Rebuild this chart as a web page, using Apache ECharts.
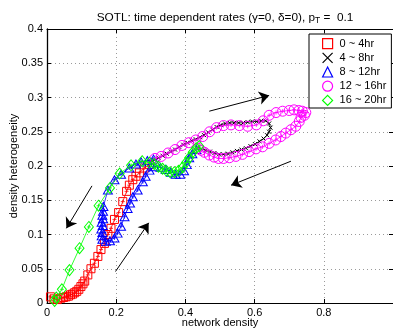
<!DOCTYPE html>
<html>
<head>
<meta charset="utf-8">
<script src="https://cdn.jsdelivr.net/npm/echarts@6/dist/echarts.min.js"></script>
<style>html,body{margin:0;padding:0;background:#fff}#c{width:393px;height:329px}</style>
</head>
<body>
<div id="c"></div>
<script>
// ---- data ----
const seriesNames = ['0 ~ 4hr', '4 ~ 8hr', '8 ~ 12hr', '12 ~ 16hr', '16 ~ 20hr'];
const xTicks = [0, 0.2, 0.4, 0.6, 0.8];
const red0to4 = [
  [0.010,0.009],[0.020,0.006],[0.030,0.005],[0.040,0.007],[0.048,0.008],[0.055,0.009],
  [0.062,0.010],[0.068,0.012],[0.074,0.013],[0.080,0.015],[0.086,0.017],[0.092,0.020],
  [0.098,0.024],[0.104,0.028],[0.109,0.032],[0.118,0.041],[0.127,0.050],[0.137,0.058],
  [0.147,0.068],[0.156,0.078],[0.166,0.087],[0.176,0.100],[0.185,0.109],[0.195,0.122],
  [0.207,0.132],[0.219,0.148],[0.230,0.163],[0.238,0.172],[0.248,0.180],[0.257,0.185],
  [0.267,0.190],[0.281,0.197],[0.296,0.202]
];
const black4to8 = [
  [0.298,0.205],[0.310,0.209],[0.322,0.212],[0.334,0.215],[0.346,0.218],[0.358,0.221],
  [0.370,0.224],[0.382,0.228],[0.394,0.231],[0.406,0.234],[0.418,0.237],[0.430,0.239],
  [0.442,0.242],[0.454,0.245],[0.466,0.249],[0.478,0.253],[0.490,0.257],[0.502,0.260],
  [0.515,0.262],[0.528,0.263],[0.541,0.263],[0.554,0.263],[0.567,0.263],[0.580,0.264],
  [0.593,0.265],[0.606,0.265],[0.619,0.266],[0.632,0.266],[0.642,0.262],[0.646,0.256],
  [0.642,0.250],[0.636,0.245],[0.626,0.240],[0.614,0.236],[0.601,0.232],[0.588,0.229],
  [0.575,0.226],[0.562,0.224],[0.549,0.222],[0.536,0.220],[0.523,0.218],[0.510,0.217],
  [0.497,0.217],[0.484,0.219],[0.471,0.221],[0.458,0.223],[0.445,0.225],[0.435,0.226]
];
const blue8to12 = [
  [0.432,0.224],[0.420,0.218],[0.411,0.212],[0.404,0.202],[0.396,0.193],[0.385,0.188],
  [0.372,0.188],[0.358,0.191],[0.343,0.195],[0.328,0.198],[0.312,0.199],[0.296,0.194],
  [0.285,0.185],[0.277,0.177],[0.262,0.165],[0.248,0.155],[0.240,0.146],[0.233,0.138],
  [0.224,0.126],[0.214,0.112],[0.204,0.102],[0.195,0.095],[0.182,0.091],[0.170,0.090],
  [0.160,0.093],[0.158,0.098],[0.160,0.103],[0.157,0.108],[0.161,0.113],[0.158,0.118],
  [0.162,0.123],[0.160,0.128],[0.162,0.134],[0.163,0.141],[0.176,0.165],[0.195,0.180],
  [0.214,0.188],[0.238,0.197],[0.257,0.203],[0.272,0.206],[0.290,0.208],[0.308,0.210]
];
const magenta12to16 = [
  [0.312,0.211],[0.330,0.214],[0.350,0.219],[0.370,0.224],[0.390,0.230],[0.410,0.234],
  [0.430,0.238],[0.450,0.243],[0.470,0.250],[0.490,0.256],[0.510,0.259],[0.532,0.260],
  [0.556,0.259],[0.580,0.258],[0.605,0.260],[0.625,0.266],[0.642,0.274],[0.662,0.278],
  [0.681,0.280],[0.700,0.281],[0.714,0.282],[0.728,0.281],[0.738,0.280],[0.748,0.278],
  [0.744,0.274],[0.734,0.271],[0.729,0.265],[0.719,0.258],[0.705,0.253],[0.690,0.248],
  [0.676,0.243],[0.661,0.238],[0.642,0.233],[0.623,0.228],[0.604,0.225],[0.584,0.221],
  [0.565,0.217],[0.546,0.214],[0.527,0.212],[0.510,0.211],[0.496,0.211],[0.483,0.213],
  [0.469,0.216],[0.455,0.220],[0.445,0.223],[0.436,0.226]
];
const green16to20 = [
  [0.440,0.229],[0.431,0.226],[0.421,0.220],[0.411,0.212],[0.402,0.205],[0.392,0.198],
  [0.380,0.193],[0.368,0.191],[0.356,0.191],[0.345,0.193],[0.334,0.196],[0.322,0.199],
  [0.310,0.203],[0.296,0.205],[0.275,0.207],[0.243,0.201],[0.210,0.189],[0.182,0.168],
  [0.149,0.142],[0.121,0.111],[0.094,0.080],[0.065,0.048],[0.043,0.020],[0.027,0.008],
  [0.022,0.003]
];
const arrowStarts = [[0.469,0.280],[0.705,0.207],[0.130,0.171],[0.198,0.046]];
const arrowEnds   = [[0.642,0.303],[0.532,0.172],[0.056,0.109],[0.294,0.117]];

// ---- chart ----
const FONT = '"Liberation Sans", Arial, sans-serif';
const colors = ['#ff0000', '#000000', '#0000ff', '#ff00ff', '#00ff00'];
const xPath = 'path://M0,0L10,10M10,0L0,10';
const plusPath = 'path://M5,0L5,10M0,5L10,5';
const symbols = ['rect', xPath, 'triangle', 'circle', 'diamond'];
const symSizes = [8, 4, [9, 8], 10, [9, 11]];
const legendIcons = ['rect', xPath, 'triangle', 'circle', 'diamond'];
const allData = [red0to4, black4to8, blue8to12, magenta12to16, green16to20];

const series = [];
allData.forEach((d, i) => {
  series.push({
    name: seriesNames[i], type: 'line', data: d, z: 2 + i,
    symbol: symbols[i], symbolSize: symSizes[i], showAllSymbol: true,
    lineStyle: { color: colors[i], width: 0.8 },
    itemStyle: { color: 'rgba(0,0,0,0)', borderColor: colors[i], borderWidth: 1 },
    emphasis: { disabled: true }, animation: false, silent: true
  });
  if (i !== 1) {
    series.push({
      name: seriesNames[i] + '_c', type: 'line', data: d, z: 2 + i,
      symbol: plusPath, symbolSize: 4, showAllSymbol: true,
      lineStyle: { width: 0, opacity: 0 },
      itemStyle: { color: 'rgba(0,0,0,0)', borderColor: colors[i], borderWidth: 0.8 },
      emphasis: { disabled: true }, animation: false, silent: true
    });
  }
});
series.push({
  type: 'lines', coordinateSystem: 'cartesian2d', z: 10,
  data: arrowStarts.map((s, k) => ({ coords: [s, arrowEnds[k]] })),
  symbol: ['none', 'arrow'], symbolSize: [5, 10],
  lineStyle: { color: '#000', width: 1, opacity: 1 },
  animation: false, silent: true
});

const axisTxt = { color: '#000', fontSize: 11, fontFamily: FONT };
const grid = { type: [1, 3], color: '#9a9a9a', width: 1 };
const option = {
  backgroundColor: '#fff',
  animation: false,
  title: {
    text: 'SOTL: time dependent rates (γ=0, δ=0), p{sub|T} =  0.1',
    left: 220, top: 5, textAlign: 'center',
    textStyle: {
      color: '#000', fontSize: 11.8, fontWeight: 'normal', fontFamily: FONT,
      rich: { sub: { fontSize: 8.5, fontFamily: FONT, color: '#000', padding: [6, 0, 0, 0] } }
    }
  },
  legend: {
    orient: 'vertical', left: 309, top: 34,
    padding: [4, 5, 2, 13], itemWidth: 10, itemHeight: 10, itemGap: 3,
    backgroundColor: '#fff', borderColor: '#000', borderWidth: 1, borderRadius: 0,
    textStyle: { color: '#000', fontSize: 11, fontFamily: FONT, lineHeight: 10, padding: [0, 0, 0, 2] },
    selectedMode: false,
    data: seriesNames.map((n, i) => ({
      name: n, icon: legendIcons[i],
      itemStyle: { color: 'rgba(0,0,0,0)', borderColor: colors[i], borderWidth: 1.2 }
    }))
  },
  grid: { left: 47, right: 0, top: 29, bottom: 26, containLabel: false, outerBoundsMode: 'none' },
  xAxis: [{
    type: 'value', min: 0, max: 1, interval: 0.2,
    name: 'network density', nameLocation: 'middle', nameGap: 14, nameMoveOverlap: false,
    nameTextStyle: axisTxt,
    axisLine: { show: true, onZero: false, lineStyle: { color: '#000', width: 1 } },
    axisTick: { show: true, inside: true, length: 4, lineStyle: { color: '#000' } },
    axisLabel: Object.assign({ margin: 4, formatter: v => (xTicks.indexOf(v) >= 0 ? String(v) : '') }, axisTxt),
    splitLine: { show: true, lineStyle: grid }
  }, {
    type: 'value', position: 'top', min: 0, max: 1, interval: 0.2,
    axisLine: { show: true, onZero: false, lineStyle: { color: '#000', width: 1 } },
    axisTick: { show: true, inside: true, length: 4, lineStyle: { color: '#000' } },
    axisLabel: { show: false }, splitLine: { show: false }
  }],
  yAxis: [{
    type: 'value', min: 0, max: 0.4, interval: 0.05,
    name: 'density heterogeneity', nameLocation: 'middle', nameGap: 28, nameMoveOverlap: false,
    nameTextStyle: axisTxt,
    axisLine: { show: true, onZero: false, lineStyle: { color: '#000', width: 1.3 } },
    axisTick: { show: true, inside: true, length: 4, lineStyle: { color: '#000' } },
    axisLabel: Object.assign({ margin: 4 }, axisTxt),
    splitLine: { show: true, lineStyle: grid }
  }, {
    type: 'value', position: 'right', min: 0, max: 0.4, interval: 0.05,
    axisLine: { show: true, onZero: false, lineStyle: { color: '#000', width: 1 } },
    axisTick: { show: true, inside: true, length: 4, lineStyle: { color: '#000' } },
    axisLabel: { show: false }, splitLine: { show: false }
  }],
  series: series
};
const chart = echarts.init(document.getElementById('c'), null, { renderer: 'canvas' });
chart.setOption(option);
</script>
</body>
</html>
